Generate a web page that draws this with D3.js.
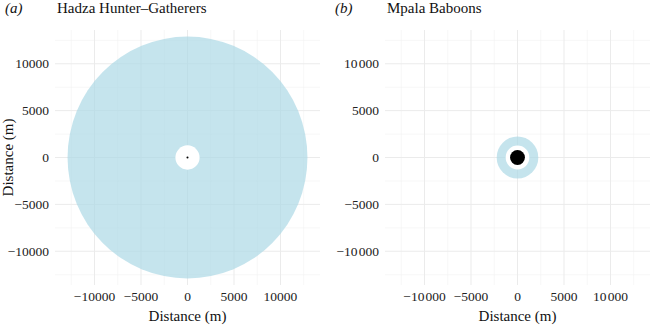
<!DOCTYPE html>
<html>
<head>
<meta charset="utf-8">
<script src="https://cdn.jsdelivr.net/npm/d3@7"></script>
<style>
  body { margin: 0; background: #fff; }
  svg text { font-family: "Liberation Serif", "Times New Roman", serif; }
</style>
</head>
<body>
<div id="chart"></div>
<script>
// panel titles and tags
const panelTitles = ["Hadza Hunter\u2013Gatherers", "Mpala Baboons"];
const panelTags = ["(a)", "(b)"];
// ring radii in metres
const outerRadius = [12900, 2240];
const innerRadius = [1300, 1270];
const coreRadius = [110, 800];
// axis ticks
const majorTicks = [-10000, -5000, 0, 5000, 10000];
const minorTicks = [-12500, -7500, -2500, 2500, 7500, 12500];
const tickSep = ["", "\u200A"];

const width = 652, height = 325;
const panelLeft = [55, 385];
const panelWidth = 265;
const plotTop = 30, plotBottom = 285;
const xLimit = 14250, yLimit = 13600;

const svg = d3.select("#chart").append("svg")
    .attr("width", width)
    .attr("height", height);

function fmt(v, sep) {
    const s = Math.abs(v).toString();
    const body = s.length > 4 ? s.slice(0, s.length - 3) + sep + s.slice(-3) : s;
    return (v < 0 ? "\u2212" : "") + body;
}

panelTitles.forEach((title, i) => {
    const x = d3.scaleLinear().domain([-xLimit, xLimit]).range([panelLeft[i], panelLeft[i] + panelWidth]);
    const y = d3.scaleLinear().domain([-yLimit, yLimit]).range([plotBottom, plotTop]);
    const g = svg.append("g");

    // minor grid
    g.selectAll(".minor-x").data(minorTicks).enter().append("line")
        .attr("x1", d => x(d)).attr("x2", d => x(d))
        .attr("y1", plotTop).attr("y2", plotBottom)
        .attr("stroke", "#f2f2f2").attr("stroke-width", 0.6);
    g.selectAll(".minor-y").data(minorTicks).enter().append("line")
        .attr("y1", d => y(d)).attr("y2", d => y(d))
        .attr("x1", x.range()[0]).attr("x2", x.range()[1])
        .attr("stroke", "#f2f2f2").attr("stroke-width", 0.6);
    // major grid
    g.selectAll(".major-x").data(majorTicks).enter().append("line")
        .attr("x1", d => x(d)).attr("x2", d => x(d))
        .attr("y1", plotTop).attr("y2", plotBottom)
        .attr("stroke", "#ebebeb").attr("stroke-width", 1);
    g.selectAll(".major-y").data(majorTicks).enter().append("line")
        .attr("y1", d => y(d)).attr("y2", d => y(d))
        .attr("x1", x.range()[0]).attr("x2", x.range()[1])
        .attr("stroke", "#ebebeb").attr("stroke-width", 1);

    const kx = x(1) - x(0), ky = y(0) - y(1);
    const rings = [
        { r: outerRadius[i], fill: "#add8e6", op: 0.7 },
        { r: innerRadius[i], fill: "#ffffff", op: 1 },
        { r: coreRadius[i], fill: "#000000", op: 1 }
    ];
    g.selectAll(".ring").data(rings).enter().append("ellipse")
        .attr("cx", x(0)).attr("cy", y(0))
        .attr("rx", d => d.r * kx).attr("ry", d => d.r * ky)
        .attr("fill", d => d.fill).attr("fill-opacity", d => d.op);

    // tick labels
    g.selectAll(".ylab").data(majorTicks).enter().append("text")
        .attr("x", panelLeft[i] - 6).attr("y", d => y(d)).attr("dy", "0.34em")
        .attr("text-anchor", "end").attr("font-size", 13.5).attr("fill", "#222")
        .text(d => fmt(d, tickSep[i]));
    g.selectAll(".xlab").data(majorTicks).enter().append("text")
        .attr("x", d => x(d)).attr("y", 301)
        .attr("text-anchor", "middle").attr("font-size", 13.5).attr("fill", "#222")
        .text(d => fmt(d, tickSep[i]));

    g.append("text")
        .attr("x", x(0)).attr("y", 321)
        .attr("text-anchor", "middle").attr("font-size", 15).attr("fill", "#111")
        .text("Distance (m)");

    g.append("text")
        .attr("x", panelLeft[i] - 50).attr("y", 13)
        .attr("font-size", 15).attr("font-style", "italic").attr("fill", "#111")
        .text(panelTags[i]);
    g.append("text")
        .attr("x", panelLeft[i] + 2).attr("y", 13)
        .attr("font-size", 15).attr("fill", "#111")
        .text(title);

    if (i === 0) {
        g.append("text")
            .attr("transform", `translate(13,${y(0)}) rotate(-90)`)
            .attr("text-anchor", "middle").attr("font-size", 15).attr("fill", "#111")
            .text("Distance (m)");
    }
});
</script>
</body>
</html>
